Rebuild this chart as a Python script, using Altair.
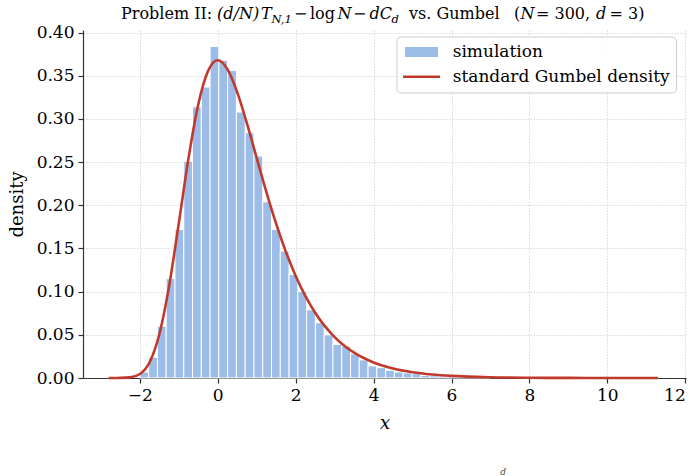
import altair as alt
import pandas as pd

# ---- data ----
bin_start0 = -2.0
bin_width = 0.2253
sim_density = [0.007, 0.024, 0.060, 0.115, 0.172, 0.251, 0.314, 0.337, 0.384, 0.368,
               0.356, 0.308, 0.284, 0.257, 0.204, 0.172, 0.147, 0.120, 0.100, 0.079,
               0.064, 0.050, 0.039, 0.037, 0.028, 0.021, 0.014, 0.012, 0.009, 0.007,
               0.006, 0.005, 0.003, 0.0025, 0.002, 0.0015, 0.001, 0.001, 0.0005, 0.0005]

curve_x = [-2.8, -2.5, -2.25, -2.0, -1.75, -1.5, -1.25, -1.0, -0.75, -0.5, -0.25, 0.0,
           0.25, 0.5, 0.75, 1.0, 1.25, 1.5, 1.75, 2.0, 2.5, 3.0, 3.5, 4.0, 4.5, 5.0,
           5.5, 6.0, 7.0, 8.0, 9.0, 10.0, 11.3]
curve_y = [0.0000, 0.0001, 0.0007, 0.0046, 0.0182, 0.0507, 0.1064, 0.1794, 0.2549, 0.3170,
           0.3556, 0.3679, 0.3574, 0.3307, 0.2945, 0.2546, 0.2151, 0.1785, 0.1460, 0.1182,
           0.0756, 0.0474, 0.0293, 0.0180, 0.0110, 0.0067, 0.0041, 0.0025, 0.0009, 0.0003,
           0.0001, 0.0000, 0.0000]

x_ticks = [-2, 0, 2, 4, 6, 8, 10, 12]
y_ticks = [0.0, 0.05, 0.10, 0.15, 0.20, 0.25, 0.30, 0.35, 0.40]

bars = pd.DataFrame({
    "lo": [bin_start0 + i * bin_width for i in range(len(sim_density))],
    "hi": [bin_start0 + (i + 1) * bin_width for i in range(len(sim_density))],
    "density": sim_density,
})
curve = pd.DataFrame({"x": curve_x, "y": curve_y})

SERIF = "DejaVu Serif"
BLUE = "#9dbde9"
RED = "#c0392b"

xscale = alt.Scale(domain=[-3.46, 12.02], nice=False, zero=False)
yscale = alt.Scale(domain=[0, 0.403], nice=False)

bar_layer = alt.Chart(bars).mark_rect(color=BLUE, stroke="white", strokeWidth=1).encode(
    x=alt.X("lo:Q", scale=xscale,
            axis=alt.Axis(values=x_ticks, format="d", title="x", titleFontStyle="italic",
                          labelExpr="replace(datum.label, '-', '\u2212')")),
    x2="hi:Q",
    y=alt.Y("density:Q", scale=yscale,
            axis=alt.Axis(values=y_ticks, format=".2f", title="density")),
    y2=alt.datum(0),
)

line_layer = alt.Chart(curve).mark_line(color=RED, strokeWidth=2.6, interpolate="monotone").encode(
    x="x:Q", y="y:Q"
)

one = pd.DataFrame({"k": [0]})

# legend (drawn manually)
leg_frame = alt.Chart(one).mark_rect(fill="white", fillOpacity=0.85, stroke="#cccccc",
                                     strokeWidth=1, cornerRadius=4).encode(
    x=alt.value(314), x2=alt.value(593.5), y=alt.value(7), y2=alt.value(63))
leg_patch = alt.Chart(one).mark_rect(color=BLUE).encode(
    x=alt.value(322), x2=alt.value(355), y=alt.value(17), y2=alt.value(27))
leg_line = alt.Chart(one).mark_rule(color=RED, strokeWidth=2.6).encode(
    x=alt.value(320), x2=alt.value(357), y=alt.value(46.7))
leg_t1 = alt.Chart(one).mark_text(font=SERIF, fontSize=17, align="left", baseline="middle",
                                  color="black").encode(
    x=alt.value(369.7), y=alt.value(22), text=alt.value("simulation"))
leg_t2 = alt.Chart(one).mark_text(font=SERIF, fontSize=17, align="left", baseline="middle",
                                  color="black").encode(
    x=alt.value(369.7), y=alt.value(47), text=alt.value("standard Gumbel density"))

# title pieces (mixed upright / italic math, subscripts smaller and lowered)
title_parts = [
    ("Problem II:", 38, "normal", 16, 0),
    ("(d/N)", 134, "italic", 16, 0),
    ("T", 178, "italic", 16, 0),
    ("N,1", 188.5, "italic", 11.5, 4),
    ("\u2212", 211, "normal", 16, 0),
    ("log", 227, "normal", 16, 0),
    ("N", 254.5, "italic", 16, 0),
    ("\u2212", 270, "normal", 16, 0),
    ("dC", 286.5, "italic", 16, 0),
    ("d", 308.5, "italic", 11.5, 4),
    ("vs.  Gumbel", 326, "normal", 16, 0),
    ("(", 431, "normal", 16, 0),
    ("N", 437.5, "italic", 16, 0),
    ("= 300,", 453, "normal", 16, 0),
    ("d", 513, "italic", 16, 0),
    ("= 3)", 526.5, "normal", 16, 0),
]
title_layers = []
for txt, px, style, fs, dy in title_parts:
    title_layers.append(
        alt.Chart(one).mark_text(font=SERIF, fontSize=fs, fontStyle=style, align="left",
                                 baseline="alphabetic", color="black").encode(
            x=alt.value(px), y=alt.value(-11 + dy), text=alt.value(txt))
    )

# small clipped glyph visible at the bottom edge of the reference
stray = alt.Chart(one).mark_text(font=SERIF, fontSize=9, fontStyle="italic", align="center",
                                 baseline="bottom", color="#444444").encode(
    x=alt.value(420), y=alt.value(447), text=alt.value("d"))

chart = alt.layer(bar_layer, line_layer, leg_frame, leg_patch, leg_line, leg_t1, leg_t2,
                  *title_layers, stray).properties(
    width=603, height=348,
    autosize=alt.AutoSizeParams(type="none"),
    padding={"left": 83, "top": 30, "right": 10, "bottom": 98},
    background="white",
).configure_view(stroke=None).configure_axis(
    grid=True, gridColor="#d5d5d5", gridDash=[1.5, 1.5], gridWidth=0.9,
    domainColor="#333333", domainWidth=1.2, tickColor="#333333", tickSize=5, tickWidth=1.2,
    labelFont=SERIF, labelFontSize=17, labelColor="black", labelPadding=4,
    titleFont=SERIF, titleFontSize=18, titleFontWeight="normal", titleColor="black",
).configure_axisX(titlePadding=11).configure_axisY(titlePadding=10)

chart.save("out.html", embed_options={"renderer": "svg", "actions": False})
